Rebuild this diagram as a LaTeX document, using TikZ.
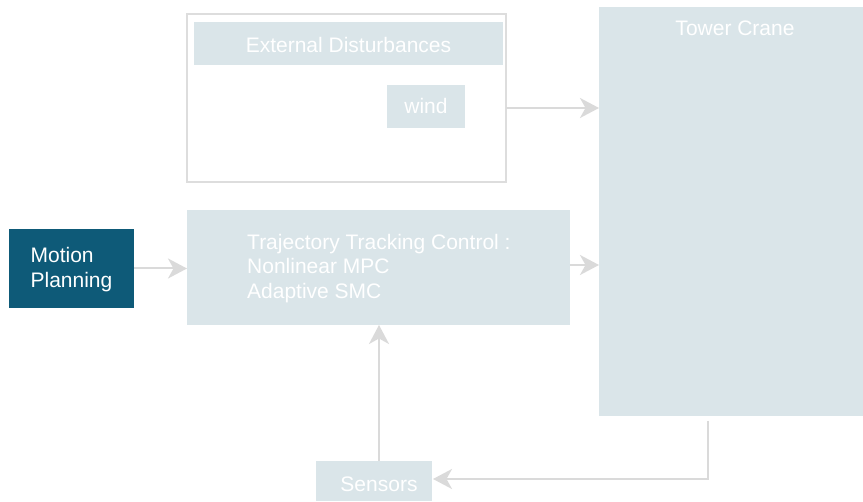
\documentclass[tikz,border=0pt]{standalone}
\usepackage{fontspec}
\setmainfont{Liberation Sans}
\usetikzlibrary{arrows.meta}
\definecolor{paleblue}{HTML}{DAE5E9}
\definecolor{deepteal}{HTML}{0E5A78}
\definecolor{linegray}{HTML}{DADADA}
\definecolor{framegray}{HTML}{DDDDDD}
\tikzset{
  block/.style={fill=paleblue, draw=none, inner sep=0pt, outer sep=0pt},
  darkblock/.style={fill=deepteal, draw=none, inner sep=0pt, outer sep=0pt},
  frame/.style={draw=framegray, line width=2pt, fill=none, inner sep=0pt, outer sep=0pt},
  lbl/.style={text=white, inner sep=0pt, font=\fontsize{21}{24.5}\selectfont},
  arr/.style={draw=linegray, line width=2pt,
    -{Stealth[length=19pt, width=20pt, inset=5.5pt]}},
}
\begin{document}
\begin{tikzpicture}[x=1pt, y=-1pt]
\useasboundingbox (0,0) rectangle (863,502);

% external disturbances group
\node[frame, minimum width=319pt, minimum height=168pt] (ext) at (346.5,98) {};
\node[block, minimum width=309pt, minimum height=43pt] (exthead) at (348.5,43.5) {};
\node[lbl] (exttext) at (348.5,45) {External Disturbances};
\node[block, minimum width=78pt, minimum height=43pt] (wind) at (426,106.5) {};
\node[lbl] (windtext) at (426,106) {wind};

% plant
\node[block, minimum width=264pt, minimum height=409pt] (tower) at (731,211.5) {};
\node[lbl] (towertext) at (735,28) {Tower Crane};

% planner
\node[darkblock, minimum width=125pt, minimum height=79pt] (mp) at (71.5,268.5) {};
\node[lbl, align=left] (mptext) at (71.5,269.5) {Motion\\Planning};

% controller
\node[block, minimum width=383pt, minimum height=115pt] (traj) at (378.5,267.5) {};
\node[lbl, align=left, anchor=west] (trajtext) at (247,268.5)
  {Trajectory Tracking Control :\\Nonlinear MPC\\Adaptive SMC};

% sensing
\node[block, minimum width=116pt, minimum height=40pt] (sens) at (374,481) {};
\node[lbl] (senstext) at (379,484) {Sensors};

% signal flow
\coordinate (windout) at (506,108);
\draw[arr] (windout) -- (windout -| tower.west);
\draw[arr] (mp.east) -- (mp.east -| traj.west);
\draw[arr] ([yshift=2.5pt]traj.east) -- ([yshift=2.5pt]traj.east -| tower.west);
\coordinate (senstap) at (379,461);
\draw[arr] (senstap) -- (senstap |- traj.south);
\coordinate (towertap) at (708,421);
\coordinate (sensin) at (433,479);
\draw[arr] (towertap) |- (sensin);
\end{tikzpicture}
\end{document}
